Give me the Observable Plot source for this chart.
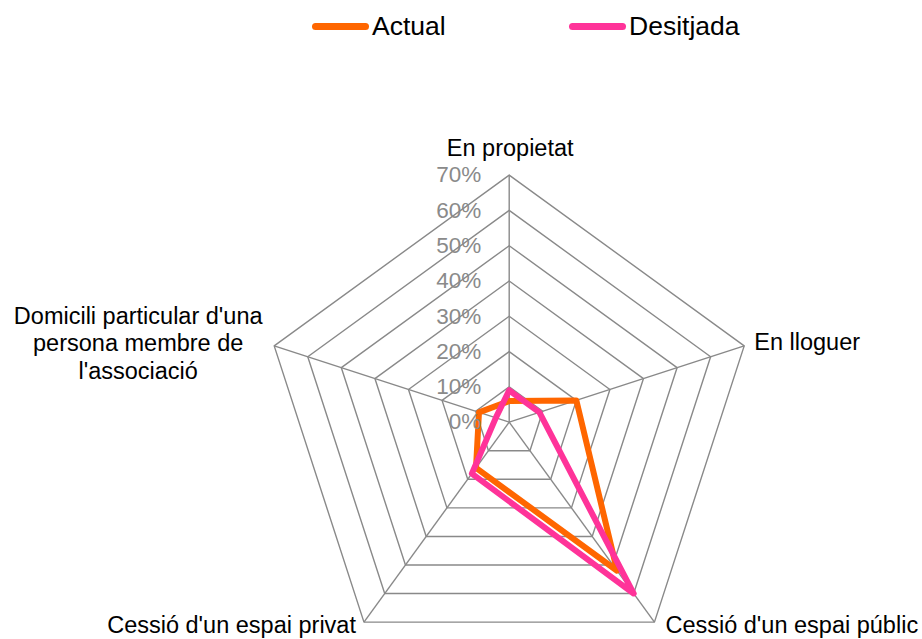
<!DOCTYPE html>
<html>
<head>
<meta charset="utf-8">
<script src="https://cdn.jsdelivr.net/npm/d3@7"></script>
<script src="https://cdn.jsdelivr.net/npm/@observablehq/plot@0.6"></script>
<style>
  html, body { margin: 0; padding: 0; background: #fff; }
  #wrap { position: relative; width: 922px; height: 639px; overflow: hidden; font-family: "Liberation Sans", Arial, sans-serif; }
  #chart { position: absolute; left: 0; top: 0; }
  #legend { position: absolute; left: 0; top: 0; width: 922px; height: 50px; }
  .item { position: absolute; top: 11px; display: flex; align-items: center; font-size: 26.5px; color: #000; line-height: 30px; }
  .swatch { width: 57px; height: 7px; border-radius: 4px; margin-right: 3px; }
</style>
</head>
<body>
<div id="wrap">
  <div id="chart"></div>
  <div id="legend"></div>
</div>
<script>
// ---- data ----
const categories = [
  "En propietat",
  "En lloguer",
  "Cessió d'un espai públic",
  "Cessió d'un espai privat",
  "Domicili particular d'una\npersona membre de\nl'associació"
];
const seriesNames = ["Actual", "Desitjada"];
const actual = [6, 20, 52, 16, 9];
const desitjada = [9, 9, 60, 18, 4];
const levels = [0, 10, 20, 30, 40, 50, 60, 70];
const tickLabels = ["0%", "10%", "20%", "30%", "40%", "50%", "60%", "70%"];

// ---- styles / geometry ----
const colors = {Actual: "#FF6600", Desitjada: "#FF3399"};
const W = 922, H = 639;
const cx = 508.7, cy = 421.7, pxPerUnit = 3.53;
const maxLevel = levels[levels.length - 1];
const n = categories.length;
const ang = i => Math.PI / 2 - i * 2 * Math.PI / n;
const pt = (i, r) => [r * Math.cos(ang(i)), r * Math.sin(ang(i))];

// rings
const ringData = levels.slice(1).flatMap(l =>
  d3.range(n + 1).map(k => { const [x, y] = pt(k % n, l); return {level: l, x, y}; }));
// spokes
const spokeData = categories.map((c, i) => { const [x, y] = pt(i, maxLevel); return {x1: 0, y1: 0, x2: x, y2: y}; });
// series
const seriesData = [];
[actual, desitjada].forEach((vals, s) => {
  d3.range(n + 1).forEach(k => {
    const [x, y] = pt(k % n, vals[k % n]);
    seriesData.push({series: seriesNames[s], x, y});
  });
});
// category labels
const placement = [
  {anchor: "middle", dx: 1, dy: -28},
  {anchor: "start", dx: 10, dy: -4},
  {anchor: "start", dx: 11, dy: 2},
  {anchor: "end", dx: -8, dy: 2},
  {anchor: "middle", dx: -136, dy: -3}
];
const labelMarks = categories.map((c, i) => {
  const [x, y] = pt(i, maxLevel);
  const p = placement[i];
  return Plot.text([{x, y, t: c}], {
    x: "x", y: "y", text: "t", textAnchor: p.anchor, dx: p.dx, dy: p.dy,
    fontSize: 23.5, fill: "#000", lineAnchor: "middle", lineHeight: 1.15
  });
});
const tickData = levels.map((l, i) => ({x: 0, y: l, t: tickLabels[i]}));

const plot = Plot.plot({
  width: W, height: H,
  marginTop: 0, marginRight: 0, marginBottom: 0, marginLeft: 0,
  style: {fontFamily: "'Liberation Sans', Arial, sans-serif", background: "transparent"},
  x: {domain: [-cx / pxPerUnit, (W - cx) / pxPerUnit], axis: null},
  y: {domain: [-(H - cy) / pxPerUnit, cy / pxPerUnit], axis: null},
  marks: [
    Plot.line(ringData, {x: "x", y: "y", z: "level", stroke: "#898989", strokeWidth: 1.4}),
    Plot.link(spokeData, {x1: "x1", y1: "y1", x2: "x2", y2: "y2", stroke: "#898989", strokeWidth: 1.4}),
    Plot.line(seriesData, {x: "x", y: "y", z: "series", stroke: d => colors[d.series], strokeWidth: 6, strokeLinejoin: "round", strokeLinecap: "round"}),
    Plot.text(tickData, {x: "x", y: "y", text: "t", textAnchor: "end", dx: -28, fontSize: 22.5, fill: "#8a8a8a"}),
    ...labelMarks
  ]
});
document.getElementById("chart").appendChild(plot);

// legend
const legend = document.getElementById("legend");
const legendLeft = [312, 569];
seriesNames.forEach((s, i) => {
  const item = document.createElement("div");
  item.className = "item";
  item.style.left = legendLeft[i] + "px";
  const sw = document.createElement("div");
  sw.className = "swatch";
  sw.style.background = colors[s];
  item.appendChild(sw);
  const t = document.createElement("span");
  t.textContent = s;
  item.appendChild(t);
  legend.appendChild(item);
});
</script>
</body>
</html>
